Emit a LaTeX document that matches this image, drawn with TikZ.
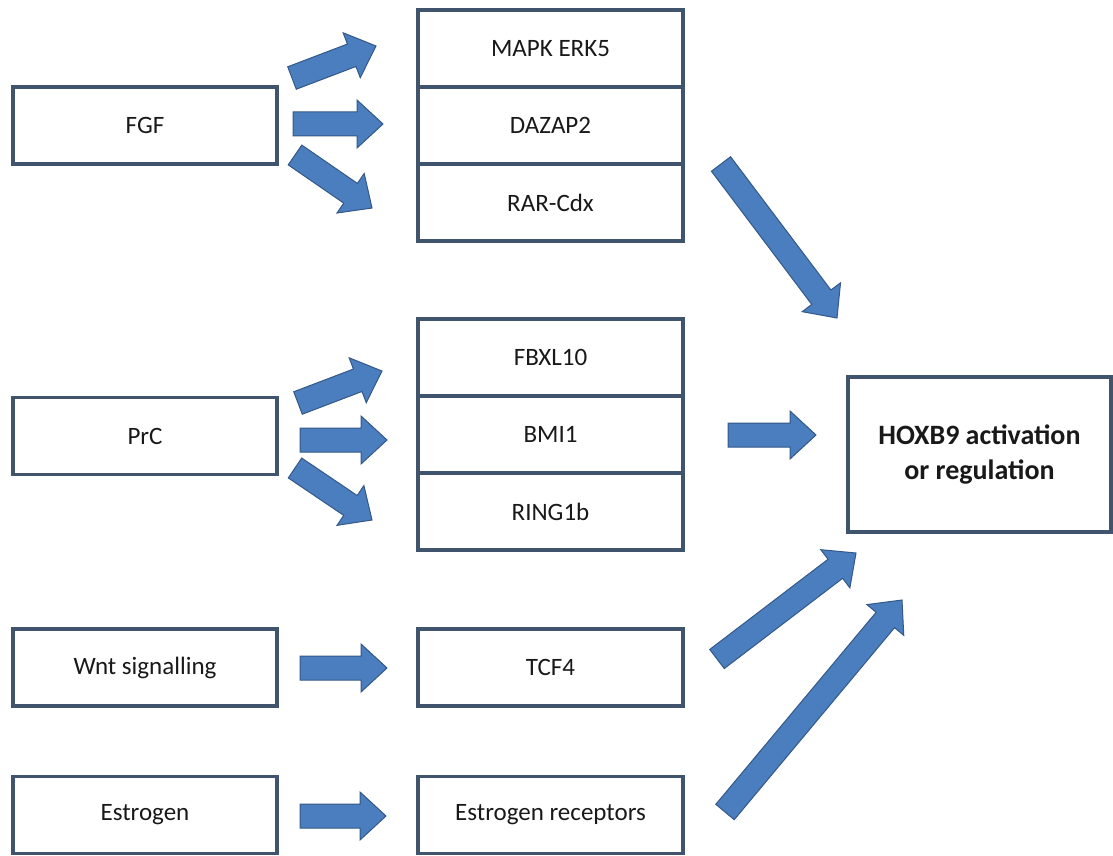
\documentclass[tikz,border=0pt]{standalone}
\usepackage{fontspec}
\setmainfont{Carlito}
\usetikzlibrary{calc}

\definecolor{boxline}{RGB}{65,84,110}
\definecolor{arrowfill}{RGB}{74,126,190}
\definecolor{arrowline}{RGB}{52,88,135}

\tikzset{
  box/.style={draw=boxline, line width=3.5pt, fill=white, minimum width=264pt,
    minimum height=77pt, inner sep=0pt, text=black!90, font=\fontsize{25}{30}\selectfont},
  fatarrow/.style={fill=arrowfill, draw=arrowline, line width=1pt, line join=miter}
}

% block arrow from tail point #1 to tip point #2 (shaft 24pt, head 48pt x 26pt)
\newcommand{\fatarrow}[2]{%
  \draw[fatarrow]
    ($(#1)!12pt!90:(#2)$) -- ($(#2)!26pt!(#1)!12pt!-90:(#1)$) --
    ($(#2)!26pt!(#1)!24pt!-90:(#1)$) -- (#2) --
    ($(#2)!26pt!(#1)!24pt!90:(#1)$) -- ($(#2)!26pt!(#1)!12pt!90:(#1)$) --
    ($(#1)!12pt!-90:(#2)$) -- cycle;}

\begin{document}
\begin{tikzpicture}[x=1pt,y=-1pt]
  \useasboundingbox[fill=white] (0,0) rectangle (1113,856);

  % signals on the left
  \foreach \name/\y/\txt in {fgf/125.5/FGF, prc/436/PrC, wnt/667.5/Wnt signalling, estrogen/815/Estrogen}
    \node[box] (\name) at (145,\y) {\txt};

  % mediators, the two stacks share their borders
  \foreach \name/\y/\txt in {mapk/48.5/MAPK ERK5, dazap/125.5/DAZAP2, rar/202.5/RAR-Cdx,
      fbxl/357.5/FBXL10, bmi/434.5/BMI1, ring/511.5/RING1b,
      tcf/667.5/TCF4, er/815/Estrogen receptors}
    \node[box, minimum width=265pt] (\name) at (550.5,\y) {\txt};

  % target
  \node[box, minimum width=263pt, minimum height=155pt, align=center,
    font=\fontsize{28}{35}\selectfont\bfseries] (hoxb) at (979.5,454.5) {HOXB9 activation\\or regulation};

  % arrows: tail / tip
  \foreach \n/\a/\b in {fgf1/{292,78}/{376,46}, fgf2/{293,124}/{383,124}, fgf3/{295,155}/{372,208},
      prc1/{298,403}/{382,371}, prc2/{300,440}/{387,440}, prc3/{295,468}/{372,520},
      wnt/{300,668}/{387,668}, estrogen/{300,816}/{386,816},
      rar/{721,164}/{837,318}, bmi/{728,435}/{816,435},
      tcf/{717,659}/{856,553}, er/{725,812}/{902,600}}
  {
    \coordinate (\n-tail) at (\a);
    \coordinate (\n-tip) at (\b);
    \fatarrow{\n-tail}{\n-tip}
  }
\end{tikzpicture}
\end{document}
